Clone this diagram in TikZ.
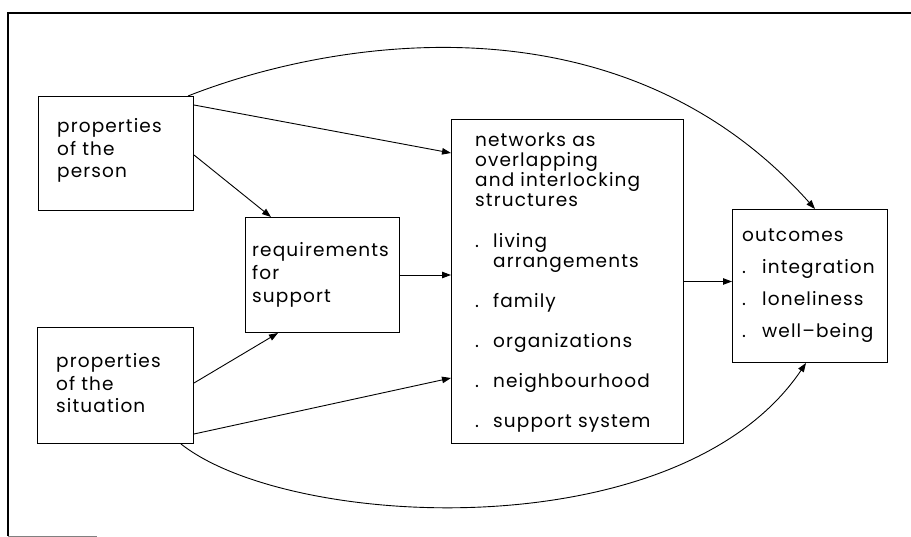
\documentclass[tikz,border=0pt]{standalone}
\usepackage{fontspec}
\setmainfont{Poppins}[LetterSpace=6]
\usetikzlibrary{arrows.meta}

% font size with a given line distance
\newcommand{\diagfont}[1]{\fontsize{18.5}{#1}\selectfont}
% one item of a list, a dot in front
\newcommand{\itm}[2][18pt]{\makebox[#1][l]{.}#2}

\begin{document}
\begin{tikzpicture}[x=1pt, y=-1pt,
    box/.style={draw, line width=1pt, anchor=north west, inner sep=0pt},
    boxtext/.style={anchor=base west, inner sep=0pt, align=left, text width=#1},
    link/.style={line width=0.9pt, -{Triangle[length=9pt,width=6.5pt]}}
  ]
  \useasboundingbox (0,0) rectangle (911,537);

  % frame round the figure
  \draw[line width=2.5pt] (8,536) -- (8,13) -- (911,13);
  \draw[line width=1pt, gray] (8,536) -- (97,536);

  % boxes
  \node[box, minimum width=155pt, minimum height=114pt] (person) at (38,96) {};
  \node[box, minimum width=156pt, minimum height=116pt] (situation) at (37,327) {};
  \node[box, minimum width=154pt, minimum height=115pt] (req) at (245,217) {};
  \node[box, minimum width=232pt, minimum height=324pt] (network) at (451,119) {};
  \node[box, minimum width=155pt, minimum height=153pt] (outcomes) at (732,209) {};

  % texts in the boxes
  \node[boxtext=130pt, font=\diagfont{22.5pt}] (persontext)
    at ([xshift=19pt, yshift=-37pt]person.north west) {%
properties\\
of the\\
person};
  \node[boxtext=130pt, font=\diagfont{22.5pt}] (situationtext)
    at ([xshift=19pt, yshift=-41pt]situation.north west) {%
properties\\
of the\\
situation};
  \node[boxtext=145pt, font=\diagfont{23pt}] (reqtext)
    at ([xshift=7pt, yshift=-40pt]req.north west) {%
requirements\\
for\\
support};
  \node[boxtext=205pt, font=\diagfont{20pt}] (networktext)
    at ([xshift=24pt, yshift=-28pt]network.north west) {%
networks as\\
overlapping\\
and interlocking\\
structures\\[21pt]
\itm{living}\\
\hspace*{18pt}arrangements\\[20pt]
\itm{family}\\[20pt]
\itm{organizations}\\[20pt]
\itm{neighbourhood}\\[20pt]
\itm{support system}};
  \node[boxtext=145pt, font=\diagfont{32pt}] (outcomestext)
    at ([xshift=10pt, yshift=-33pt]outcomes.north west) {%
outcomes\\
\itm[20pt]{integration}\\
\itm[20pt]{loneliness}\\
\itm[20pt]{well--being}};

  % straight connectors
  \draw[link] ([yshift=-9pt]person.north east) -- ([yshift=-34pt]network.north west);
  \draw[link] ([yshift=-59pt]person.north east) -- ([xshift=26pt]req.north west);
  \draw[link] ([yshift=-56pt]situation.north east) -- ([xshift=33pt]req.south west);
  \draw[link] ([yshift=10pt]situation.south east) -- ([yshift=66pt]network.south west);
  \draw[link] (req.east) -- (req.east -| network.west);
  \draw[link] (network.east) -- (network.east -| outcomes.west);

  % the two long arcs to the outcomes
  \draw[link] ([xshift=-6pt]person.north east)
    .. controls (330,40) and (620,-10) .. ([xshift=5pt]outcomes.north);
  \draw[link] ([xshift=-13pt]situation.south east)
    .. controls (290,530) and (680,550) .. ([xshift=-4pt]outcomes.south);
\end{tikzpicture}
\end{document}
